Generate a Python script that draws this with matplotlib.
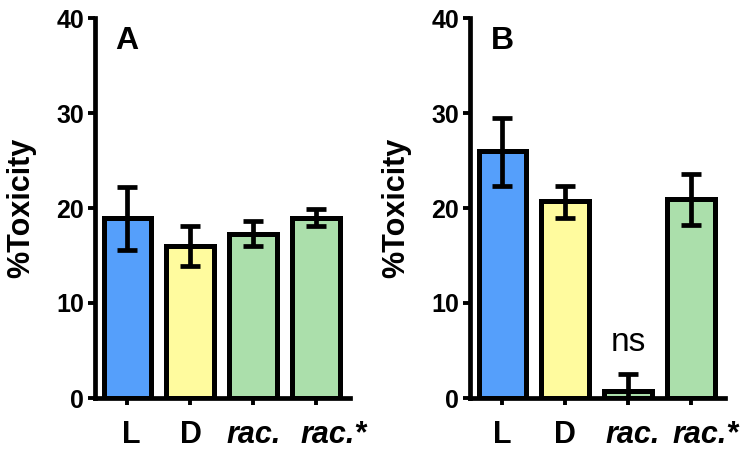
import matplotlib
matplotlib.use("Agg")
import matplotlib.pyplot as plt
import matplotlib.transforms as mtransforms
import numpy as np

categories = ["L", "D", "rac.", "rac.*"]
values_A = [18.9, 16.0, 17.3, 19.0]
err_A = [3.3, 2.1, 1.3, 0.9]
values_B = [26.0, 20.7, 0.7, 21.0]
err_B_low = [3.7, 1.8, 0.7, 2.8]
err_B_high = [3.5, 1.6, 1.8, 2.6]
panel_labels = ["A", "B"]
yticks = [0, 10, 20, 30, 40]

colors = ["#559FFB", "#FFFB9E", "#ABDFAB", "#ABDFAB"]

plt.rcParams['font.family'] = ['Liberation Sans', 'DejaVu Sans']

fig = plt.figure(figsize=(7.5, 4.49), dpi=100)
W, H = 750, 449
ax1 = fig.add_axes([95 / W, 1 - 398 / H, 255 / W, 380 / H])
ax2 = fig.add_axes([470 / W, 1 - 398 / H, 255 / W, 380 / H])

lw_spine = 3.4
x = np.arange(len(categories))

def style(ax, vals, yerr, label, shifts):
    ax.bar(x, vals, width=0.75, color=colors, edgecolor="black", linewidth=3.6, zorder=2)
    ax.errorbar(x, vals, yerr=yerr, fmt="none", ecolor="black", elinewidth=3.4,
                capsize=7.5, capthick=3.4, zorder=3)
    ax.set_xlim(-0.51, 3.54)
    ax.set_ylim(0, 40)
    ax.set_yticks(yticks)
    ax.set_xticks(x)
    ax.set_xticklabels(categories)
    for s in ["top", "right"]:
        ax.spines[s].set_visible(False)
    for s in ["left", "bottom"]:
        ax.spines[s].set_linewidth(lw_spine)
    ax.tick_params(axis="both", length=5, width=2.8)
    ax.tick_params(axis="y", pad=3)
    ax.tick_params(axis="x", pad=11)
    for i, t in enumerate(ax.get_xticklabels()):
        t.set_fontweight("bold")
        t.set_fontsize(22)
        if i >= 2:
            t.set_fontstyle("italic")
        if shifts[i]:
            t.set_transform(t.get_transform() +
                            mtransforms.ScaledTranslation(shifts[i] / 100, 0, fig.dpi_scale_trans))
    for t in ax.get_yticklabels():
        t.set_fontweight("bold")
        t.set_fontsize(18)
    ax.set_ylabel("%Toxicity", fontsize=22, fontweight="bold", labelpad=14)
    ax.text(0, 37.6, label, ha="center", va="center", fontsize=23, fontweight="bold")

style(ax1, values_A, err_A, panel_labels[0], [4, 1, 1, 18])
style(ax2, values_B, [err_B_low, err_B_high], panel_labels[1], [0, 0, 5, 15])
ax2.text(2, 5.8, "ns", ha="center", va="center", fontsize=24)

fig.savefig("out.png", dpi=100)
